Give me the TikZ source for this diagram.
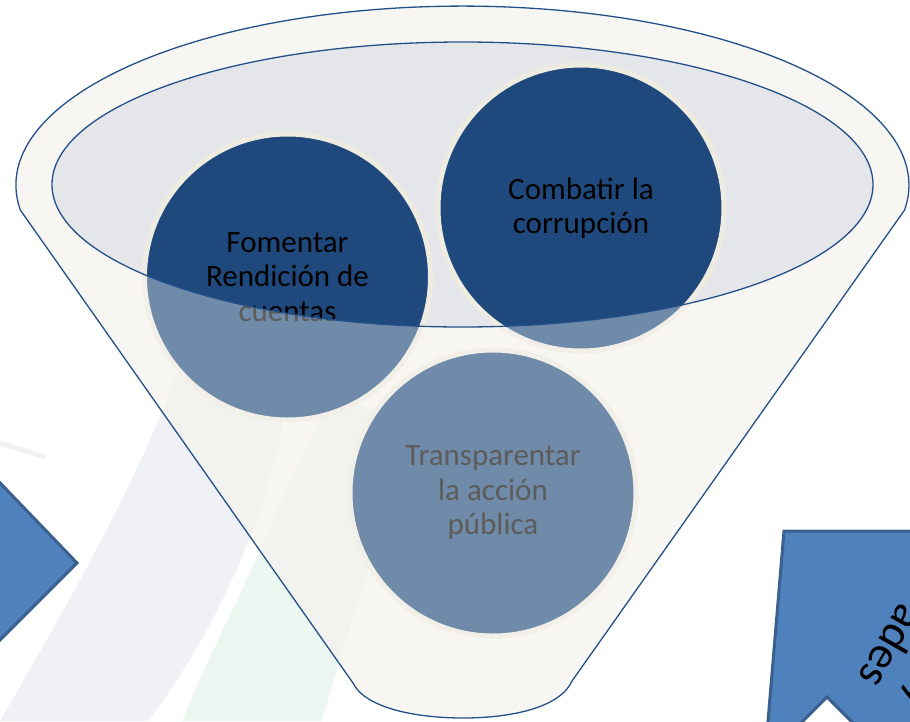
\documentclass[tikz,border=0pt]{standalone}
\usepackage{fontspec}
\setmainfont{Carlito}
\definecolor{dkblue}{HTML}{1F497D}
\definecolor{lineblue}{HTML}{24508A}
\definecolor{cream}{HTML}{F7F6F2}
\definecolor{bodycream}{HTML}{F2F0E9}
\definecolor{rimcream}{HTML}{EEECE1}
\definecolor{ellgray}{HTML}{E4E6EA}
\definecolor{arrowfill}{HTML}{4F81BD}
\definecolor{arrowline}{HTML}{3A6090}
\definecolor{wmlav}{HTML}{EFF1F7}
\definecolor{wmgreen}{HTML}{EDF7F1}
\definecolor{wmgray}{HTML}{F2F2F2}
\begin{document}
\begin{tikzpicture}[x=1pt,y=-1pt,
  funnelpath/.style={insert path={(20.3,210) arc[start angle=172,end angle=368,x radius=446.5,y radius=179] -- (572,681) .. controls (560,708) and (510,718) .. (463,718) .. controls (416,718) and (365,708) .. (353,683) -- cycle}},
  rimpath/.style={insert path={(462.5,184.5) ellipse [x radius=410.5, y radius=142.5]}},
  outline/.style={draw=lineblue, line width=1.3pt},
  ball/.style={circle, fill=dkblue, draw=rimcream, line width=5pt, minimum size=286pt, inner sep=0pt, align=center, font=\fontsize{31}{34.5}\selectfont, text=black},
  arrowshape/.style={fill=arrowfill, draw=arrowline, line width=3pt, line join=miter},
  rtext/.style={font=\fontsize{46}{52}\selectfont, rotate=240, text=black, inner sep=0pt, align=right}
]
\useasboundingbox (0,0) rectangle (910,721);
% faint background bands
\fill[wmlav] (0,721) .. controls (70,600) and (140,480) .. (190,340) -- (295,340) .. controls (285,480) and (225,620) .. (148,721) -- cycle;
\fill[wmgreen] (182,721) .. controls (215,640) and (255,570) .. (290,480) -- (330,400) -- (420,420) .. controls (385,520) and (350,620) .. (322,721) -- cycle;
\draw[wmgray, line width=5pt] (0,443) -- (45,457);
% blue arrows
\draw[arrowshape] (-20,462) -- (77,563) -- (-20,660) -- cycle;
\draw[arrowshape] (784,531) -- (930,531) -- (930,745) -- (875,745) -- (827,697) -- (779,745) -- (766,745) -- cycle;
\node[rtext, anchor=base east] (rt) at (857,677) {y\\ades};
% funnel body
\path[fill=bodycream, fill opacity=0.6] [funnelpath];
\path[fill=ellgray] [rimpath];
% circles
\node[ball] (c1) at (287.5,277) {Fomentar\\Rendición de\\cuentas};
\node[ball] (c2) at (581,208) {Combatir la\\corrupción};
\node[ball] (c3) at (493,493) {Transparentar\\la acción\\pública};
% translucent overlay outside rim
\path[fill=cream, fill opacity=0.375, even odd rule] [funnelpath] [rimpath];
% outlines
\path[outline] [funnelpath];
\path[outline] [rimpath];
\end{tikzpicture}
\end{document}
